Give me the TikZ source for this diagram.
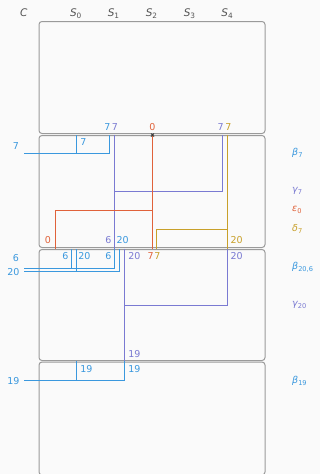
\documentclass[tikz,border=0pt]{standalone}
\usepackage{fontspec}
\setmainfont{DejaVu Sans}
\definecolor{cblue}{HTML}{3A98DE}
\definecolor{cpurp}{HTML}{7A7AD2}
\definecolor{corng}{HTML}{E0623A}
\definecolor{cgold}{HTML}{C8A02A}
\definecolor{cgray}{HTML}{9A9A9A}
\definecolor{ctext}{HTML}{555555}
\definecolor{bgc}{HTML}{FAFAFA}
\begin{document}
\begin{tikzpicture}[x=1pt,y=-1pt,
  rowbox/.style={draw=cgray,line width=1pt,rounded corners=3pt,fill=bgc,minimum width=226pt,inner sep=0pt},
  num/.style={inner sep=0pt,font=\fontsize{9.5}{10}\selectfont},
  hdr/.style={inner sep=0pt,anchor=base,text=ctext,font=\fontsize{10.5}{12}\selectfont},
  leg/.style={inner sep=0pt,anchor=west,font=\fontsize{9.5}{11}\selectfont},
  bl/.style={draw=cblue,line width=1.5pt},
  pu/.style={draw=cpurp,line width=1.5pt},
  orl/.style={draw=corng,line width=1.5pt},
  gd/.style={draw=cgold,line width=1.5pt}]
\fill[bgc] (0,0) rectangle (320,474);
\useasboundingbox (0,0) rectangle (320,474);

% rows
\node[rowbox,minimum height=112pt] (row1) at (152,77.5) {};
\node[rowbox,minimum height=112pt] (row2) at (152,191.5) {};
\node[rowbox,minimum height=111pt] (row3) at (152,305) {};
\node[rowbox,minimum height=113pt] (row4) at (152,418.5) {};

% header
\node[hdr] (hC) at (23.8,16.7) {\itshape C};
\node[hdr] (hS0) at (76,16.7) {{\itshape S}\textsubscript{0}};
\node[hdr] (hS1) at (113.7,16.7) {{\itshape S}\textsubscript{1}};
\node[hdr] (hS2) at (151.7,16.7) {{\itshape S}\textsubscript{2}};
\node[hdr] (hS3) at (189.7,16.7) {{\itshape S}\textsubscript{3}};
\node[hdr] (hS4) at (227.3,16.7) {{\itshape S}\textsubscript{4}};

% ---- beta_7 (blue)
\coordinate (b7s) at (24,153.5);
\coordinate (b7j) at (76.5,153.5);
\coordinate (b7e) at (109.5,153.5);
\coordinate (b7u) at (76.5,134.5);
\coordinate (b7v) at (109.5,134.5);
\draw[bl] (b7s) -- (b7e) -- (b7v);
\draw[bl] (b7j) -- (b7u);

% ---- gamma_7 (purple)
\coordinate (g7a) at (114.5,134.5);
\coordinate (g7b) at (114.5,248.5);
\coordinate (g7j) at (114.5,191.5);
\coordinate (g7c) at (222.5,191.5);
\coordinate (g7d) at (222.5,134.5);
\draw[pu] (g7a) -- (g7b);
\draw[pu] (g7j) -- (g7c) -- (g7d);

% ---- epsilon_0 (orange)
\coordinate (e0a) at (152.5,134.5);
\coordinate (e0b) at (152.5,248.5);
\coordinate (e0j) at (152.5,210.5);
\coordinate (e0c) at (55.5,210.5);
\coordinate (e0d) at (55.5,248.5);
\draw[orl] (e0a) -- (e0b);
\draw[orl] (e0j) -- (e0c) -- (e0d);

% ---- delta_7 (gold)
\coordinate (d7a) at (227.5,134.5);
\coordinate (d7b) at (227.5,248.5);
\coordinate (d7j) at (227.5,229.5);
\coordinate (d7c) at (156.5,229.5);
\coordinate (d7d) at (156.5,248.5);
\draw[gd] (d7a) -- (d7b);
\draw[gd] (d7j) -- (d7c) -- (d7d);

% ---- beta_{20,6} (blue)
\coordinate (b6s) at (24,268.5);
\coordinate (b6j) at (71.5,268.5);
\coordinate (b6e) at (114.5,268.5);
\coordinate (b6u) at (71.5,248.5);
\coordinate (b6v) at (114.5,248.5);
\draw[bl] (b6s) -- (b6e) -- (b6v);
\draw[bl] (b6j) -- (b6u);
\coordinate (b20s) at (24,271.5);
\coordinate (b20j) at (76.5,271.5);
\coordinate (b20e) at (119.5,271.5);
\coordinate (b20u) at (76.5,248.5);
\coordinate (b20v) at (119.5,248.5);
\draw[bl] (b20s) -- (b20e) -- (b20v);
\draw[bl] (b20j) -- (b20u);

% ---- gamma_20 (purple)
\coordinate (g20a) at (124.5,248.5);
\coordinate (g20b) at (124.5,361);
\coordinate (g20j) at (124.5,305.5);
\coordinate (g20c) at (227.5,305.5);
\coordinate (g20d) at (227.5,248.5);
\draw[pu] (g20a) -- (g20b);
\draw[pu] (g20j) -- (g20c) -- (g20d);

% ---- beta_19 (blue)
\coordinate (b19s) at (24,380.5);
\coordinate (b19j) at (76.5,380.5);
\coordinate (b19e) at (124.5,380.5);
\coordinate (b19u) at (76.5,361);
\coordinate (b19v) at (124.5,361);
\draw[bl] (b19s) -- (b19e) -- (b19v);
\draw[bl] (b19j) -- (b19u);

% small cross mark
\coordinate (xm1) at (151,133.5);
\coordinate (xm2) at (154,136.5);
\coordinate (xm3) at (151,136.5);
\coordinate (xm4) at (154,133.5);
\draw[ctext!70!black,line width=0.8pt] (xm1) -- (xm2) (xm3) -- (xm4);

% ---- number labels
\node[num,text=cblue] (n1) at (107.5,127) {7};
\node[num,text=cpurp] (n2) at (114.8,127) {7};
\node[num,text=corng] (n3) at (152.3,127) {0};
\node[num,text=cpurp] (n4) at (220.7,127) {7};
\node[num,text=cgold] (n5) at (228.3,127) {7};
\node[num,text=cblue] (n6) at (83.3,142.5) {7};
\node[num,text=cblue] (n7) at (16,145.7) {7};

\node[num,text=corng] (n8) at (48,240) {0};
\node[num,text=cpurp] (n9) at (108.3,240) {6};
\node[num,text=cblue] (n10) at (122.7,240) {20};
\node[num,text=cgold] (n11) at (236.7,240.5) {20};

\node[num,text=cblue] (n12) at (65.3,256) {6};
\node[num,text=cblue] (n13) at (84.3,256) {20};
\node[num,text=cblue] (n14) at (108.3,256) {6};
\node[num,text=cpurp] (n15) at (134.3,256) {20};
\node[num,text=corng] (n16) at (150.7,256) {7};
\node[num,text=cgold] (n17) at (157.3,256) {7};
\node[num,text=cpurp] (n18) at (236.7,256) {20};
\node[num,text=cblue] (n19) at (16,258.3) {6};
\node[num,text=cblue] (n20) at (13.3,271.7) {20};

\node[num,text=cpurp] (n21) at (134.5,354.5) {19};
\node[num,text=cblue] (n22) at (86.3,369.3) {19};
\node[num,text=cblue] (n23) at (134.3,369.3) {19};
\node[num,text=cblue] (n24) at (13.3,380.7) {19};

% ---- legend
\node[leg,text=cblue] (l1) at (292,153) {{\itshape β}\textsubscript{7}};
\node[leg,text=cpurp] (l2) at (292,191) {{\itshape γ}\textsubscript{7}};
\node[leg,text=corng] (l3) at (292,210) {{\itshape ε}\textsubscript{0}};
\node[leg,text=cgold] (l4) at (292,229) {{\itshape δ}\textsubscript{7}};
\node[leg,text=cblue] (l5) at (292,267.5) {{\itshape β}\textsubscript{20,6}};
\node[leg,text=cpurp] (l6) at (292,305) {{\itshape γ}\textsubscript{20}};
\node[leg,text=cblue] (l7) at (292,381) {{\itshape β}\textsubscript{19}};
\end{tikzpicture}
\end{document}
